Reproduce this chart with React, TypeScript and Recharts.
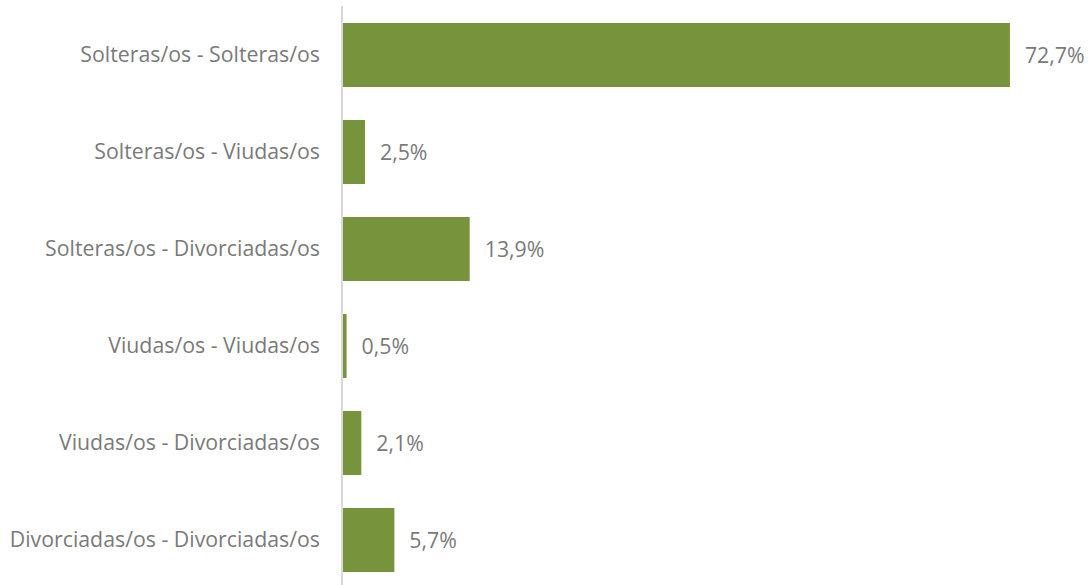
import React from 'react';
import { BarChart, Bar, XAxis, YAxis, LabelList } from 'recharts';

// Combinaciones de estado civil y porcentaje
const categories = [
  'Solteras/os - Solteras/os',
  'Solteras/os - Viudas/os',
  'Solteras/os - Divorciadas/os',
  'Viudas/os - Viudas/os',
  'Viudas/os - Divorciadas/os',
  'Divorciadas/os - Divorciadas/os',
];
const values = [72.7, 2.5, 13.9, 0.5, 2.1, 5.7];

const data = categories.map((name, i) => ({ name, value: values[i] }));

const FONT = '"Open Sans", sans-serif';
const TEXT_COLOR = '#7a7a7a';
const BAR_COLOR = '#77933C';

const fmt = (v: number) => `${v.toFixed(1).replace('.', ',')}%`;

export default function App() {
  return (
    <div style={{ position: 'absolute', left: 0, top: 0, width: 1092, height: 585, overflow: 'hidden', background: '#fff' }}>
      <BarChart
        width={1092}
        height={588}
        data={data}
        layout="vertical"
        margin={{ top: 6, right: 15, bottom: 0, left: 0 }}
        barSize={64}
      >
        <XAxis type="number" domain={[0, 80]} hide />
        <YAxis
          type="category"
          dataKey="name"
          width={342}
          axisLine={{ stroke: '#d9d9d9', strokeWidth: 2 }}
          tickLine={false}
          tickMargin={16}
          tick={{ fill: TEXT_COLOR, fontSize: 21.3, fontFamily: FONT }}
        />
        <Bar dataKey="value" fill={BAR_COLOR} isAnimationActive={false}>
          <LabelList
            dataKey="value"
            position="right"
            offset={15}
            formatter={(v: number) => fmt(v)}
            style={{ fill: TEXT_COLOR, fontSize: 21.3, fontFamily: FONT }}
          />
        </Bar>
      </BarChart>
    </div>
  );
}
